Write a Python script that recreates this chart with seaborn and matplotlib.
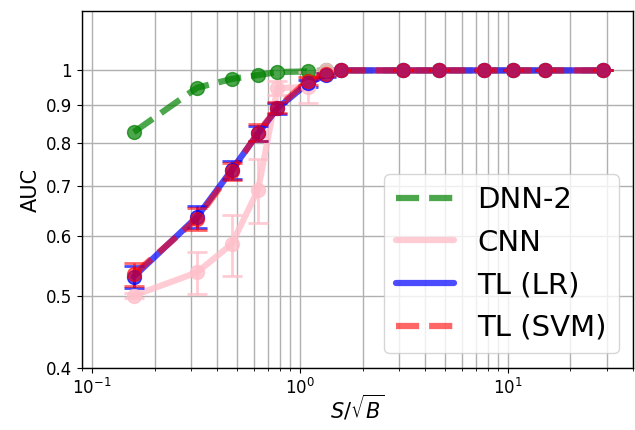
import numpy as np
import pandas as pd
import matplotlib
matplotlib.use("Agg")
import matplotlib.pyplot as plt
import matplotlib.ticker as mticker
import seaborn as sns

# ---- data ----
snr = [0.159, 0.32, 0.47, 0.63, 0.78, 1.09, 1.33, 1.57, 3.13, 4.66, 7.67, 10.6, 15.1, 28.6]
dnn2 = [0.827, 0.948, 0.974, 0.986, 0.995, 0.997, 1.0, 1.0, 1.0, 1.0, 1.0, 1.0, 1.0, 1.0]
cnn = [0.50, 0.537, 0.586, 0.693, 0.947, 0.95, 1.0, 1.0, 1.0, 1.0, 1.0, 1.0, 1.0, 1.0]
cnn_err = [0.004, 0.035, 0.055, 0.068, 0.02, 0.045, 0.005, 0, 0, 0, 0, 0, 0, 0]
tl_lr = [0.530, 0.637, 0.736, 0.824, 0.890, 0.961, 0.986, 1.0, 1.0, 1.0, 1.0, 1.0, 1.0, 1.0]
tl_lr_err = [0.018, 0.021, 0.02, 0.02, 0.015, 0.01, 0.005, 0, 0, 0, 0, 0, 0, 0]
tl_svm = [0.534, 0.633, 0.733, 0.826, 0.892, 0.969, 0.988, 1.0, 1.0, 1.0, 1.0, 1.0, 1.0, 1.0]
tl_svm_err = [0.019, 0.021, 0.02, 0.022, 0.016, 0.012, 0.005, 0, 0, 0, 0, 0, 0, 0]

labels = ["DNN-2", "CNN", "TL (LR)", "TL (SVM)"]
yticks = [0.4, 0.5, 0.6, 0.7, 0.8, 0.9, 1.0]
ytick_labels = ["0.4", "0.5", "0.6", "0.7", "0.8", "0.9", "1"]

sns.set_style("ticks")
plt.rcParams["font.family"] = ["DejaVu Sans"]
plt.rcParams["text.color"] = "black"
plt.rcParams["axes.labelcolor"] = "black"
plt.rcParams["xtick.color"] = "black"
plt.rcParams["ytick.color"] = "black"

fig = plt.figure(figsize=(6.35, 4.3), dpi=100)
ax = fig.add_axes([0.129, 0.144, 0.868, 0.830])

series = [
    (dnn2, None, "green", "--", 0.7),
    (cnn, cnn_err, "pink", "-", 0.8),
    (tl_lr, tl_lr_err, "blue", "-", 0.7),
    (tl_svm, tl_svm_err, "red", "--", 0.6),
]

for (vals, errs, col, ls, a), lab in zip(series, labels):
    df = pd.DataFrame({"x": snr, "y": vals})
    sns.lineplot(data=df, x="x", y="y", ax=ax, color=col, lw=4.5, ls=ls,
                 alpha=a, label=lab)
    ax.errorbar(snr, vals, yerr=errs, fmt="o", color=col, ms=10, alpha=a,
                capsize=7, elinewidth=2, capthick=2, mec=col)

ax.set_xscale("log")
ax.set_yscale("log")
ax.set_xlim(0.0895, 40)
ax.set_ylim(0.4, 1.2)
ax.yaxis.set_major_locator(mticker.FixedLocator(yticks))
ax.yaxis.set_major_formatter(mticker.FixedFormatter(ytick_labels))
ax.yaxis.set_minor_locator(mticker.NullLocator())
ax.grid(True, which="both", color="#b0b0b0", lw=1)
ax.tick_params(which="major", labelsize=12, colors="black", direction="out",
               length=3.5, width=0.8)
ax.tick_params(which="minor", direction="out", length=2, width=0.6, colors="black")
for s in ax.spines.values():
    s.set_visible(True)
    s.set_color("black")
    s.set_linewidth(1)

ax.set_xlabel(r"$S/\sqrt{B}$", fontsize=15, labelpad=-3)
ax.set_ylabel("AUC", fontsize=15)
leg = ax.legend(loc="lower right", fontsize=21, framealpha=0.8)
for t in leg.get_texts():
    t.set_color("black")

fig.savefig("out.png", dpi=100)
